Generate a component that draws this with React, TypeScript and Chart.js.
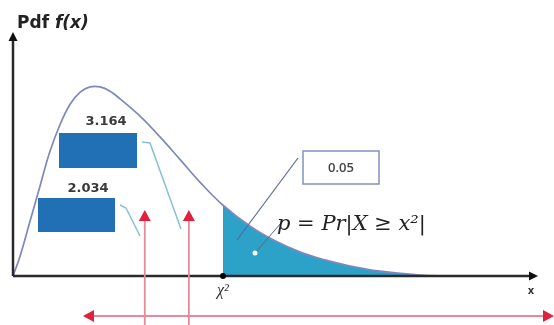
import React, { useEffect, useRef } from "react";
import { Chart, registerables } from "chart.js";

Chart.register(...registerables);

// Density curve (abstract x units 0..10, y units 0..1)
const curveX = [0, 0.13, 0.32, 0.51, 0.7, 0.9, 1.09, 1.28, 1.47, 1.66, 1.85, 2.04, 2.42, 2.8, 3.18, 3.56, 4.0, 4.51, 5.0, 5.47, 5.94, 6.42, 6.99, 7.75, 8.32];
const curveY = [0, 0.078, 0.221, 0.365, 0.508, 0.623, 0.705, 0.754, 0.775, 0.775, 0.757, 0.726, 0.655, 0.57, 0.478, 0.385, 0.29, 0.205, 0.143, 0.098, 0.066, 0.041, 0.02, 0.004, 0];
const criticalX = 4.0;
const criticalLabel = "χ²";
const axisYLabel = "Pdf ";
const axisYLabelItalic = "f(x)";
const axisXLabel = "x";
const valueLabels = ["3.164", "2.034"];
const alphaLabel = "0.05";
const formulaLabel = "p = Pr|X ≥ x²|";
const arrowXs = [2.51, 3.35];

const curvePts = curveX.map((x, i) => ({ x, y: curveY[i] }));
const tailPts = curvePts.filter((p) => p.x >= criticalX);

function head(ctx: CanvasRenderingContext2D, tx: number, ty: number, dx: number, dy: number, len: number, half: number, color: string) {
  const px = -dy, py = dx;
  ctx.beginPath();
  ctx.moveTo(tx, ty);
  ctx.lineTo(tx - dx * len + px * half, ty - dy * len + py * half);
  ctx.lineTo(tx - dx * len - px * half, ty - dy * len - py * half);
  ctx.closePath();
  ctx.fillStyle = color;
  ctx.fill();
}

const annot = {
  id: "annot",
  afterDatasetsDraw(chart: any) {
    const { ctx, chartArea, scales } = chart;
    const { left, right, top, bottom } = chartArea;
    const xs = scales.x;
    ctx.save();
    // axes
    ctx.strokeStyle = "#2a2a2a";
    ctx.lineWidth = 2.5;
    ctx.beginPath();
    ctx.moveTo(left, bottom);
    ctx.lineTo(left, top + 7);
    ctx.moveTo(left, bottom);
    ctx.lineTo(right - 7, bottom);
    ctx.stroke();
    head(ctx, left, top, 0, -1, 9, 4.5, "#111");
    head(ctx, right, bottom, 1, 0, 9, 4.5, "#111");

    // critical value marker
    const cx = xs.getPixelForValue(criticalX);
    ctx.beginPath();
    ctx.arc(cx, bottom, 3, 0, Math.PI * 2);
    ctx.fillStyle = "#000";
    ctx.fill();
    ctx.fillStyle = "#333";
    ctx.font = "italic 16px 'Liberation Serif', serif";
    ctx.textAlign = "center";
    ctx.textBaseline = "middle";
    ctx.fillText(criticalLabel, cx, bottom + 15);

    ctx.font = "bold 10px 'DejaVu Sans', sans-serif";
    ctx.fillStyle = "#333";
    ctx.fillText(axisXLabel, right - 7, bottom + 15);

    // y axis title
    ctx.textAlign = "left";
    ctx.textBaseline = "alphabetic";
    ctx.fillStyle = "#222";
    ctx.font = "bold 17px 'DejaVu Sans', sans-serif";
    ctx.fillText(axisYLabel, left + 4, 28);
    const w = ctx.measureText(axisYLabel).width;
    ctx.font = "italic bold 17px 'DejaVu Sans', sans-serif";
    ctx.fillText(axisYLabelItalic, left + 4 + w, 28);

    // callout lines for blue boxes
    ctx.strokeStyle = "#86c1d3";
    ctx.lineWidth = 1.5;
    ctx.beginPath();
    ctx.moveTo(142, 142);
    ctx.lineTo(150, 143);
    ctx.lineTo(181, 229);
    ctx.moveTo(120, 205);
    ctx.lineTo(126, 208);
    ctx.lineTo(140, 236);
    ctx.stroke();

    // blue boxes
    ctx.fillStyle = "#2170b6";
    ctx.fillRect(59, 133, 78, 35);
    ctx.fillRect(38, 198, 77, 34);
    ctx.fillStyle = "#3a3a3a";
    ctx.font = "bold 13px 'DejaVu Sans', sans-serif";
    ctx.textAlign = "center";
    ctx.textBaseline = "middle";
    ctx.fillText(valueLabels[0], 106, 122);
    ctx.fillText(valueLabels[1], 88, 189);

    // alpha box
    ctx.fillStyle = "#fff";
    ctx.fillRect(303, 151, 76, 33);
    ctx.strokeStyle = "#8391c2";
    ctx.lineWidth = 1.5;
    ctx.strokeRect(303, 151, 76, 33);
    ctx.fillStyle = "#444";
    ctx.font = "600 13px 'Open Sans', sans-serif";
    ctx.fillText(alphaLabel, 341, 168);

    ctx.strokeStyle = "#5b66a6";
    ctx.lineWidth = 1.2;
    ctx.beginPath();
    ctx.moveTo(298, 158);
    ctx.lineTo(237, 240);
    ctx.stroke();

    ctx.strokeStyle = "#5a6a7a";
    ctx.lineWidth = 1;
    ctx.beginPath();
    ctx.moveTo(255, 253);
    ctx.lineTo(281, 223);
    ctx.stroke();
    ctx.beginPath();
    ctx.arc(255, 253, 2.5, 0, Math.PI * 2);
    ctx.fillStyle = "#fff";
    ctx.fill();

    ctx.fillStyle = "#222";
    ctx.font = "italic 21px 'DejaVu Serif', serif";
    ctx.textAlign = "left";
    ctx.textBaseline = "alphabetic";
    ctx.fillText(formulaLabel, 277, 230);

    // red arrows
    const red = "#e0203c";
    ctx.strokeStyle = "#e58a98";
    ctx.lineWidth = 1.8;
    for (const ax of arrowXs) {
      const px = xs.getPixelForValue(ax);
      ctx.beginPath();
      ctx.moveTo(px, 220);
      ctx.lineTo(px, 325);
      ctx.stroke();
      head(ctx, px, 210, 0, -1, 11, 6, red);
    }
    ctx.beginPath();
    ctx.moveTo(92, 316);
    ctx.lineTo(545, 316);
    ctx.stroke();
    head(ctx, 83, 316, -1, 0, 11, 6, red);
    head(ctx, 554, 316, 1, 0, 11, 6, red);
    ctx.restore();
  },
};

export default function App() {
  const ref = useRef<HTMLCanvasElement>(null);
  useEffect(() => {
    if (!ref.current) return;
    const chart = new Chart(ref.current, {
      type: "scatter",
      data: {
        datasets: [
          {
            data: curvePts,
            showLine: true,
            borderColor: "#7f88bb",
            borderWidth: 1.7,
            pointRadius: 0,
            tension: 0.4,
            fill: false,
            order: 1,
          },
          {
            data: tailPts,
            showLine: true,
            borderWidth: 0,
            borderColor: "rgba(0,0,0,0)",
            backgroundColor: "#2ca2c8",
            pointRadius: 0,
            tension: 0.4,
            fill: "origin",
            order: 2,
          },
        ],
      },
      options: {
        responsive: false,
        animation: false,
        layout: { padding: { left: 13, right: 16, top: 32, bottom: 49 } },
        scales: {
          x: { type: "linear", min: 0, max: 10, display: false },
          y: { type: "linear", min: 0, max: 1, display: false },
        },
        plugins: { legend: { display: false }, tooltip: { enabled: false } },
      },
      plugins: [annot],
    });
    return () => chart.destroy();
  }, []);
  return (
    <div style={{ position: "absolute", left: 0, top: 0, width: 554, height: 325, background: "#fff" }}>
      <canvas ref={ref} width={554} height={325} />
    </div>
  );
}
